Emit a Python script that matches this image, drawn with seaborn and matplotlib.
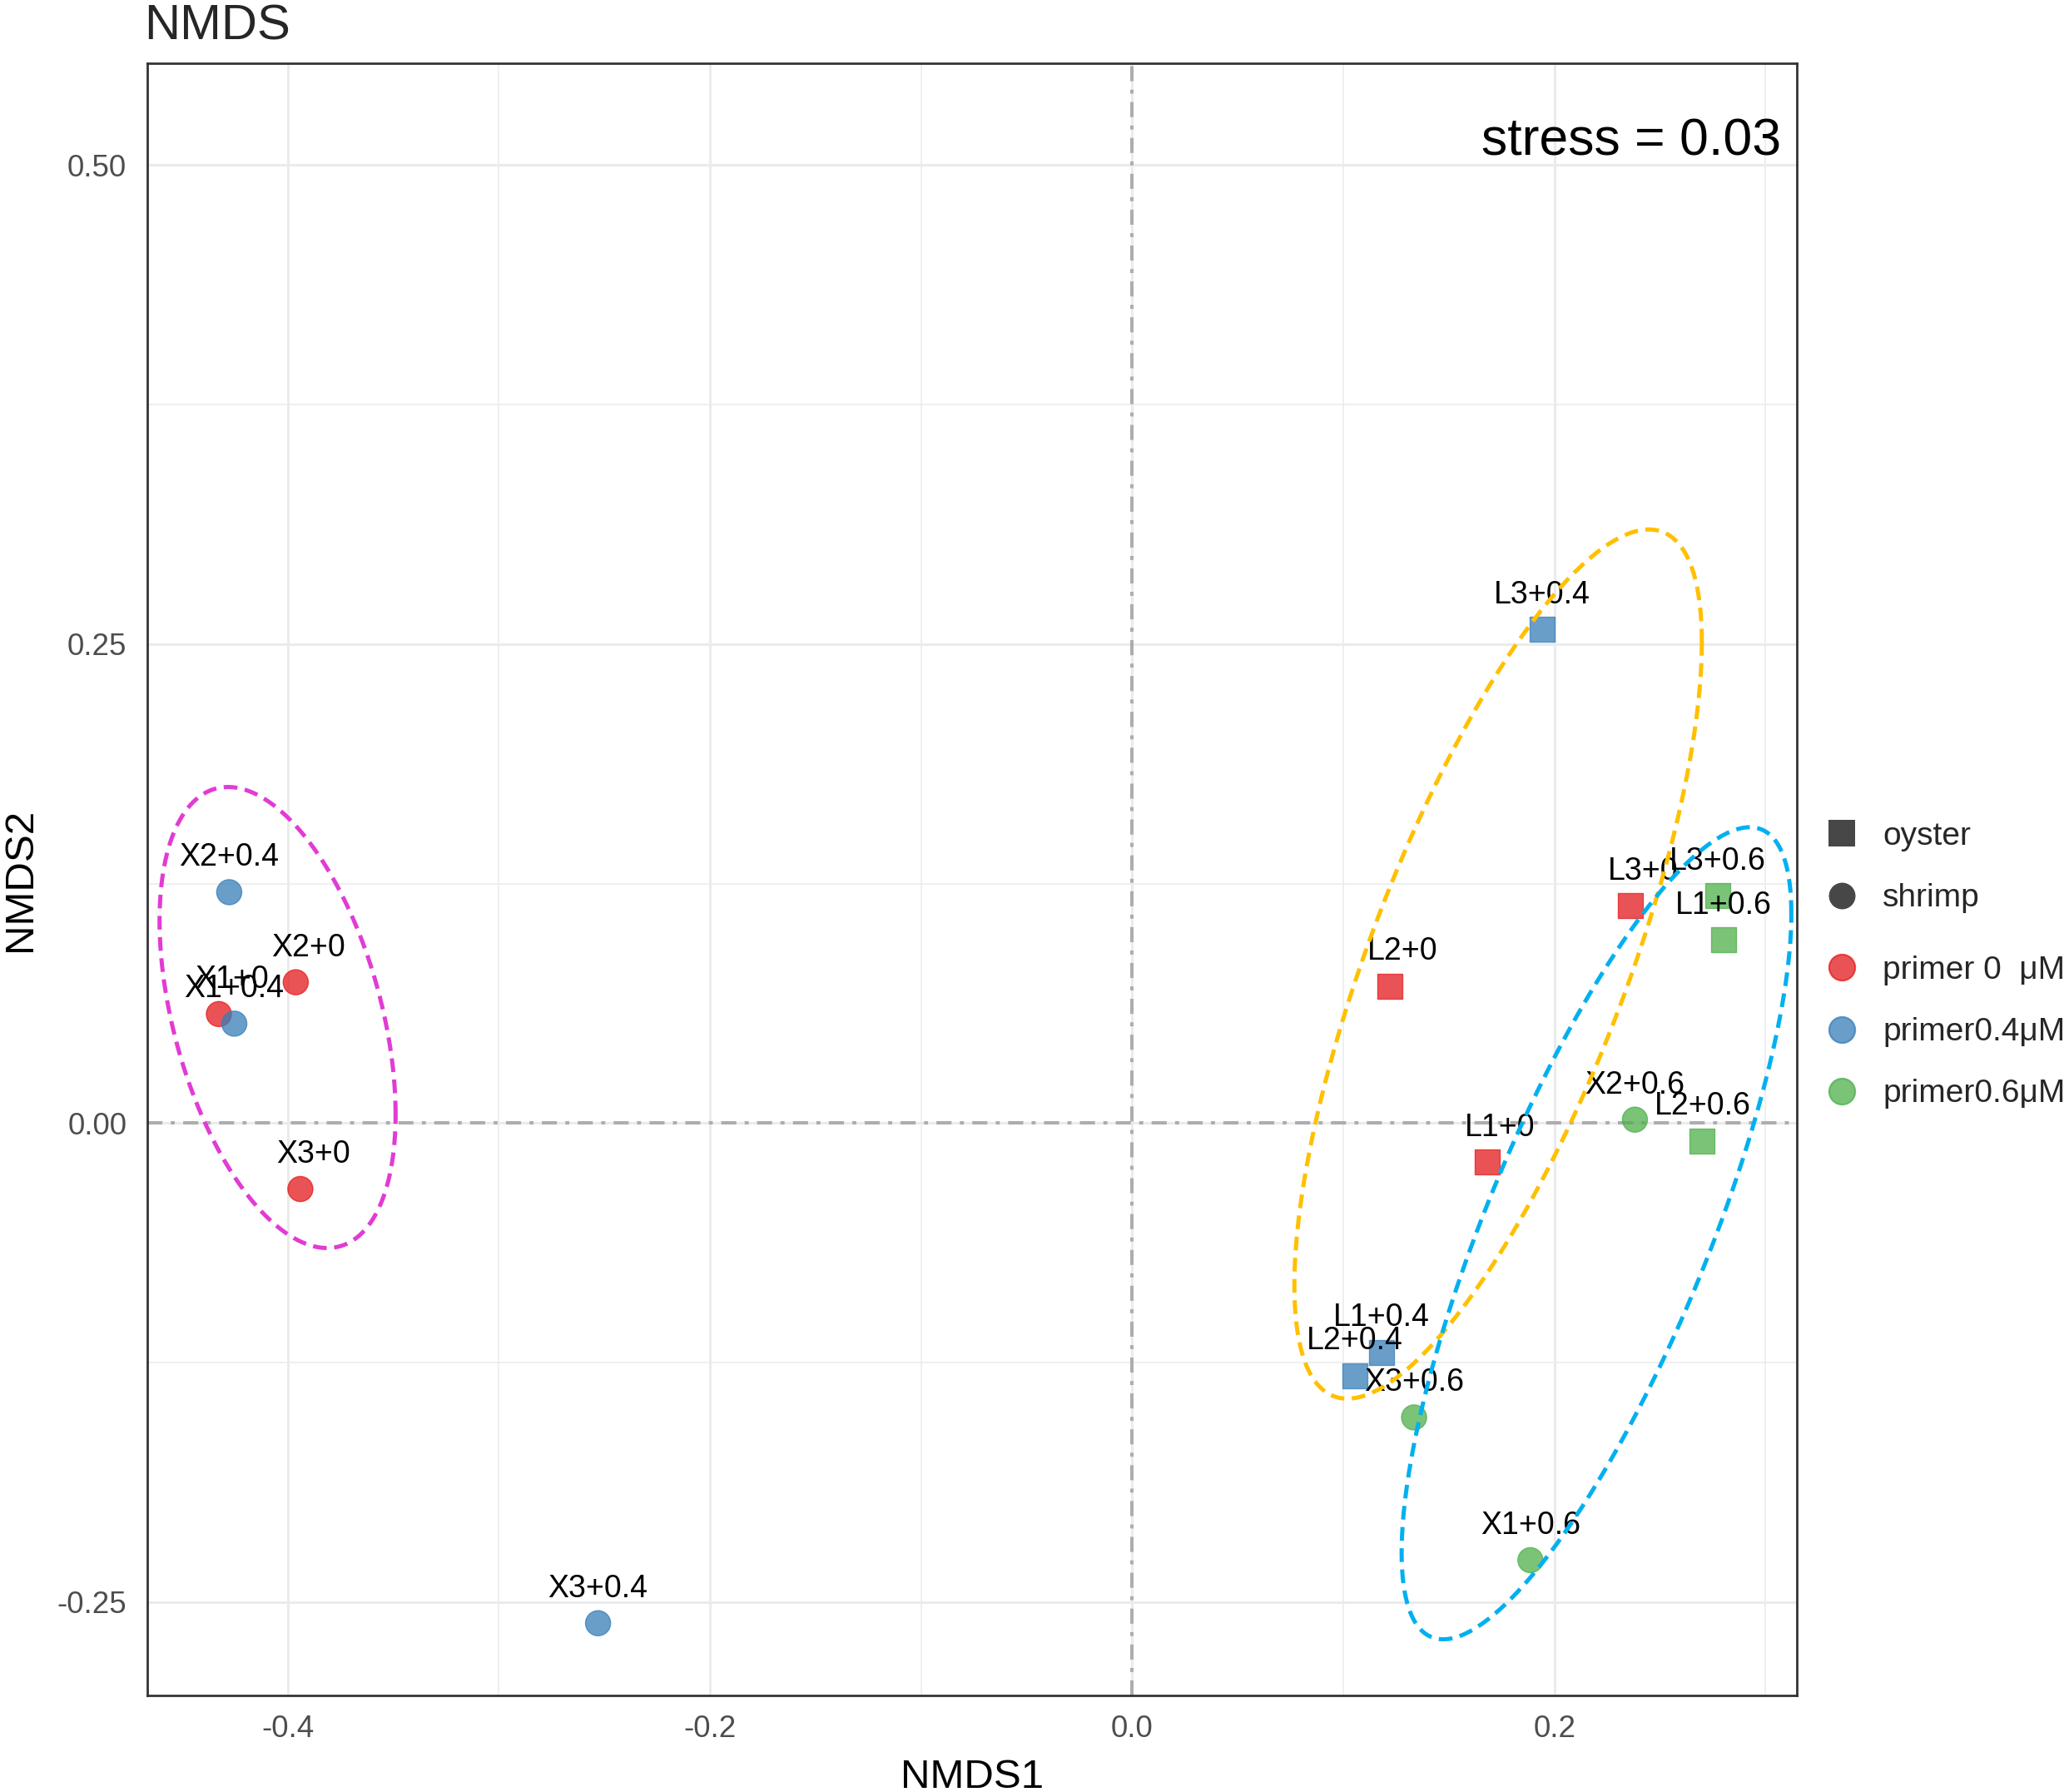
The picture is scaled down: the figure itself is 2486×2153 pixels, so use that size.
import numpy as np
import pandas as pd
import matplotlib
matplotlib.use("Agg")
import matplotlib.pyplot as plt
import seaborn as sns
from matplotlib.lines import Line2D

# NMDS scores
samples = ["X2+0.4", "X2+0", "X1+0", "X1+0.4", "X3+0", "X3+0.4",
           "L3+0.4", "L3+0", "L3+0.6", "L1+0.6", "L2+0", "X2+0.6",
           "L2+0.6", "L1+0", "L1+0.4", "L2+0.4", "X3+0.6", "X1+0.6"]
nmds1 = [-0.4277, -0.3962, -0.4326, -0.4253, -0.3940, -0.2530,
         0.1941, 0.2358, 0.2774, 0.2800, 0.1221, 0.2381,
         0.2700, 0.1683, 0.1182, 0.1055, 0.1335, 0.1886]
nmds2 = [0.1205, 0.0735, 0.0569, 0.0519, -0.0344, -0.2610,
         0.2576, 0.1135, 0.1187, 0.0956, 0.0714, 0.0018,
         -0.0093, -0.0204, -0.1196, -0.1319, -0.1536, -0.2281]
host = ["shrimp", "shrimp", "shrimp", "shrimp", "shrimp", "shrimp",
        "oyster", "oyster", "oyster", "oyster", "oyster", "shrimp",
        "oyster", "oyster", "oyster", "oyster", "shrimp", "shrimp"]
primer = ["primer0.4μM", "primer 0  μM", "primer 0  μM", "primer0.4μM",
          "primer 0  μM", "primer0.4μM", "primer0.4μM", "primer 0  μM",
          "primer0.6μM", "primer0.6μM", "primer 0  μM", "primer0.6μM",
          "primer0.6μM", "primer 0  μM", "primer0.4μM", "primer0.4μM",
          "primer0.6μM", "primer0.6μM"]
stress = 0.03

primer_levels = ["primer 0  μM", "primer0.4μM", "primer0.6μM"]
primer_colors = ["#E41A1C", "#377EB8", "#4DAF4A"]
host_levels = ["oyster", "shrimp"]
host_markers = {"oyster": "s", "shrimp": "o"}

# hand-drawn group ellipses (data units): centre, half x-extent,
# half y-extent and x offset of the topmost point from the centre
ellipse_cx = [-0.4048, 0.1733, 0.2199]
ellipse_cy = [0.0551, 0.0830, -0.0575]
ellipse_rx = [0.0559, 0.0965, 0.0923]
ellipse_ry = [0.1203, 0.2268, 0.2119]
ellipse_tx = [-0.0235, 0.0714, 0.0726]
ellipse_colors = ["#E23BD4", "#FFC000", "#00B0F0"]

df = pd.DataFrame({"sample": samples, "NMDS1": nmds1, "NMDS2": nmds2,
                   "host": host, "primer": primer})

W, H = 2486, 2153
sns.set_style("white")
plt.rcParams["font.family"] = ["Liberation Sans", "DejaVu Sans"]
plt.rcParams["axes.unicode_minus"] = False

fig = plt.figure(figsize=(W / 100, H / 100), dpi=100)
ax = fig.add_axes([177 / W, (H - 2037) / H, (2159 - 177) / W, (2037 - 76) / H])
ax.set_xlim(-0.4665, 0.3148)
ax.set_ylim(-0.2987, 0.5531)

ax.set_xticks([-0.4, -0.2, 0.0, 0.2])
ax.set_xticklabels(["-0.4", "-0.2", "0.0", "0.2"])
ax.set_xticks([-0.3, -0.1, 0.1, 0.3], minor=True)
ax.set_yticks([-0.25, 0.0, 0.25, 0.50])
ax.set_yticklabels(["-0.25", "0.00", "0.25", "0.50"])
ax.set_yticks([-0.125, 0.125, 0.375], minor=True)
ax.grid(which="major", color="#EBEBEB", lw=2.2)
ax.grid(which="minor", color="#EBEBEB", lw=1.1)
ax.set_axisbelow(True)
ax.tick_params(which="major", length=9.4, width=2.2, color="#333333",
               labelsize=26.5, labelcolor="#4D4D4D")
ax.tick_params(axis="x", pad=7)
ax.tick_params(axis="y", pad=8.5)
ax.tick_params(which="minor", length=0)
for sp in ax.spines.values():
    sp.set_color("#333333")
    sp.set_linewidth(2)

ax.axhline(0, color="#ADADAD", lw=2.9, dashes=(4.5, 2.5, 1.2, 2.5), zorder=1.5)
ax.axvline(0, color="#ADADAD", lw=2.9, dashes=(4.5, 2.5, 1.2, 2.5), zorder=1.5)

sns.scatterplot(data=df, x="NMDS1", y="NMDS2", hue="primer", style="host",
                hue_order=primer_levels, palette=primer_colors,
                style_order=host_levels, markers=host_markers,
                s=470, alpha=0.75, edgecolor="face", linewidth=1,
                legend=False, ax=ax, zorder=3)

for _, r in df.iterrows():
    dx = 11 if r["sample"].endswith("+0") else 0
    ax.annotate(r["sample"], (r["NMDS1"], r["NMDS2"]), xytext=(dx, 22.7),
                textcoords="offset points", ha="center", va="baseline",
                fontsize=27, color="black", zorder=5)

# ellipses sit on top of everything, as in the reference
t = np.linspace(0, 2 * np.pi, 361)
for cx, cy, rx, ry, tx, col in zip(ellipse_cx, ellipse_cy, ellipse_rx,
                                   ellipse_ry, ellipse_tx, ellipse_colors):
    l21 = tx * ry / rx
    l22 = np.sqrt(ry ** 2 - l21 ** 2)
    ex = cx + rx * np.cos(t)
    ey = cy + l21 * np.cos(t) + l22 * np.sin(t)
    ax.plot(ex, ey, color=col, lw=3.6, dashes=(3.3, 1.8), zorder=6)

ax.text(0.9904, 0.9434, f"stress = {stress:.2f}", transform=ax.transAxes,
        ha="right", va="baseline", fontsize=45, color="black")

ax.set_xlabel("NMDS1", fontsize=35.5, labelpad=13, color="black")
ax.set_ylabel("NMDS2", fontsize=35.5, labelpad=15.7, color="black")
fig.text(173 / W, 1 - 47 / H, "NMDS", fontsize=43, ha="left", va="baseline")

shape_handles = [Line2D([], [], ls="none", marker=host_markers[h], markersize=23,
                        markerfacecolor="#474747", markeredgecolor="#474747",
                        markeredgewidth=0) for h in host_levels]
color_handles = [Line2D([], [], ls="none", marker="o", markersize=22.5,
                        markerfacecolor=c, markeredgecolor=c, alpha=0.75,
                        markeredgewidth=1.5) for c in primer_colors]
leg_kw = dict(loc="upper left", frameon=False, fontsize=28, handlelength=1.4,
              handletextpad=0.56, labelspacing=0.98, borderpad=0, borderaxespad=0)
fig.legend(shape_handles, host_levels, bbox_to_anchor=(2186 / W, 1 - 987 / H), **leg_kw)
fig.legend(color_handles, primer_levels, bbox_to_anchor=(2186 / W, 1 - 1148 / H), **leg_kw)

fig.savefig("out.png", dpi=100)
